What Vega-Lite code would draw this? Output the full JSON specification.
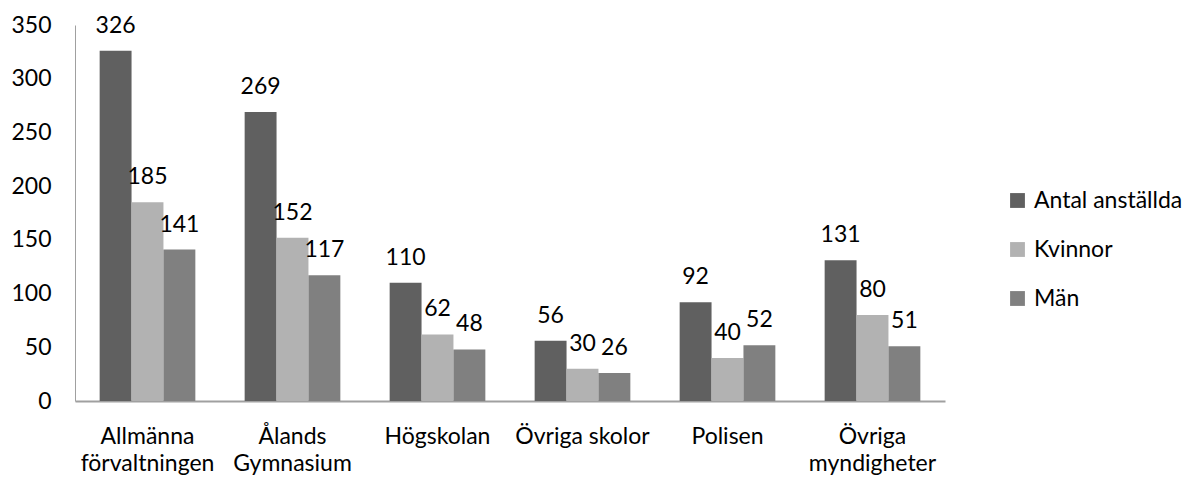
{
  "$schema": "https://vega.github.io/schema/vega-lite/v6.json",
  "width": 870,
  "height": 376,
  "autosize": "none",
  "padding": {"left": 75, "top": 25, "right": 243, "bottom": 79},
  "background": "white",
  "config": {
    "view": {"stroke": null},
    "font": "Lato",
    "axis": {"grid": false, "labelFont": "Lato", "labelFontSize": 23, "labelColor": "#000000", "domainColor": "#a0a0a0", "ticks": false, "title": null},
    "legend": {"labelFont": "Lato", "labelFontSize": 23, "labelColor": "#000000"}
  },
  "data": {
    "values": [
      {"enhet": "Allmänna förvaltningen", "serie": "Antal anställda", "antal": 326},
      {"enhet": "Allmänna förvaltningen", "serie": "Kvinnor", "antal": 185},
      {"enhet": "Allmänna förvaltningen", "serie": "Män", "antal": 141},
      {"enhet": "Ålands Gymnasium", "serie": "Antal anställda", "antal": 269},
      {"enhet": "Ålands Gymnasium", "serie": "Kvinnor", "antal": 152},
      {"enhet": "Ålands Gymnasium", "serie": "Män", "antal": 117},
      {"enhet": "Högskolan", "serie": "Antal anställda", "antal": 110},
      {"enhet": "Högskolan", "serie": "Kvinnor", "antal": 62},
      {"enhet": "Högskolan", "serie": "Män", "antal": 48},
      {"enhet": "Övriga skolor", "serie": "Antal anställda", "antal": 56},
      {"enhet": "Övriga skolor", "serie": "Kvinnor", "antal": 30},
      {"enhet": "Övriga skolor", "serie": "Män", "antal": 26},
      {"enhet": "Polisen", "serie": "Antal anställda", "antal": 92},
      {"enhet": "Polisen", "serie": "Kvinnor", "antal": 40},
      {"enhet": "Polisen", "serie": "Män", "antal": 52},
      {"enhet": "Övriga myndigheter", "serie": "Antal anställda", "antal": 131},
      {"enhet": "Övriga myndigheter", "serie": "Kvinnor", "antal": 80},
      {"enhet": "Övriga myndigheter", "serie": "Män", "antal": 51}
    ]
  },
  "encoding": {
    "x": {
      "field": "enhet", "type": "nominal", "sort": null,
      "scale": {"paddingInner": 0.34, "paddingOuter": 0.17},
      "axis": {
        "labelAngle": 0, "labelPadding": 24, "labelLineHeight": 27, "domainWidth": 2,
        "labelExpr": "datum.value == 'Allmänna förvaltningen' ? ['Allmänna', 'förvaltningen'] : datum.value == 'Ålands Gymnasium' ? ['Ålands', 'Gymnasium'] : datum.value == 'Övriga myndigheter' ? ['Övriga', 'myndigheter'] : datum.value"
      }
    },
    "xOffset": {"field": "serie", "type": "nominal", "sort": ["Antal anställda", "Kvinnor", "Män"], "scale": {"paddingInner": 0, "paddingOuter": 0}},
    "y": {
      "field": "antal", "type": "quantitative",
      "scale": {"domain": [0, 350], "nice": false},
      "axis": {"values": [0, 50, 100, 150, 200, 250, 300, 350], "labelPadding": 24, "domainWidth": 1}
    }
  },
  "layer": [
    {
      "mark": {"type": "bar"},
      "encoding": {
        "color": {
          "field": "serie", "type": "nominal", "sort": ["Antal anställda", "Kvinnor", "Män"],
          "scale": {"domain": ["Antal anställda", "Kvinnor", "Män"], "range": ["#606060", "#b2b2b2", "#808080"]},
          "legend": {"title": null, "orient": "none", "legendX": 931, "legendY": 164, "symbolType": "square", "symbolSize": 220, "symbolStrokeWidth": 0, "rowPadding": 25, "labelOffset": 5}
        }
      }
    },
    {
      "mark": {"type": "text", "baseline": "alphabetic", "dy": -18, "fontSize": 23, "font": "Lato", "color": "#000000"},
      "encoding": {"text": {"field": "antal", "type": "quantitative"}}
    }
  ]
}
